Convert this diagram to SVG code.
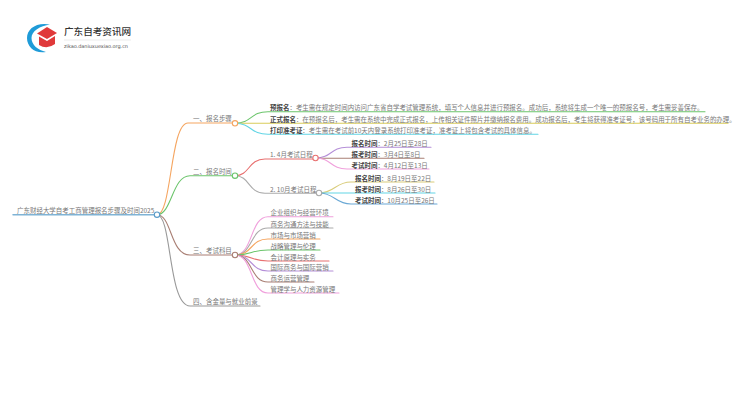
<svg xmlns="http://www.w3.org/2000/svg" width="750" height="410" viewBox="0 0 750 410">
<style>
text{font-family:"Noto Sans CJK SC","Liberation Sans",sans-serif;font-size:6.47px;fill:#777}
.b{font-weight:700;fill:#444}
.l{fill:none;stroke-width:1.1;stroke-linecap:round}
.n{fill:#fff;stroke-width:1.1}
</style>
<rect width="750" height="410" fill="#fff"/>
<g id="logo">
<path d="M50 24.500 C36 22 27 29 27 38 C27 47 35 54 46 52 C38 50 31.500 45 31.500 38 C31.500 31 40 26 50 24.500Z" fill="#1f9bd8"/>
<path d="M37 33.500 L47 27 L57 33 L47 39 Z" fill="#e0393a"/>
<path d="M39 36.500 L47 41 L55 36 V44 Q47 50 39 45 Z" fill="#e0393a"/>
<text x="64" y="34.800" style="font-size:9.6px;fill:#333;font-weight:500">广东自考资讯网</text>
<line x1="64" y1="40" x2="131" y2="40" stroke="#ddd" stroke-width=".6"/>
<text x="64" y="48" style="font-size:5px;fill:#555;font-family:'DejaVu Sans',sans-serif" textLength="64">zikao.daniuxuexiao.org.cn</text>
</g>
<g id="connectors">
<path class="l" d="M13 214.700H157" stroke="#7fb3d5" style="stroke-width:1.500"/>
<path class="l" stroke="#f5a560" d="M157 214.700C172 214.700 170 123 188 123H232"/>
<path class="l" stroke="#6cc56c" d="M157 214.700C172 214.700 172 175.700 190 175.700H232"/>
<path class="l" stroke="#a97f74" d="M157 214.700C172 214.700 170 255 190 255H232"/>
<path class="l" stroke="#999" d="M157 214.700C172 214.700 168 306 190 306H260"/>
<path class="l" stroke="#6cc56c" d="M235 123.300C252 123.300 250 111.700 268 111.700H705"/>
<path class="l" stroke="#d9cc5a" d="M235 123.300H728"/>
<path class="l" stroke="#62d5e5" d="M235 123.300C252 123.300 250 134.300 268 134.300H538"/>
<path class="l" stroke="#e87070" d="M235 175.700C250 175.700 248 159 265 159H316"/>
<path class="l" stroke="#aaa" d="M235 175.700C250 175.700 248 193.300 265 193.300H319"/>
<path class="l" stroke="#b58fd8" d="M315.500 158C332 158 330 147.300 347 147.300H431"/>
<path class="l" stroke="#a97f74" d="M315.500 158.300H424"/>
<path class="l" stroke="#f0a0dc" d="M315.500 158C332 158 330 169 347 169H429"/>
<path class="l" stroke="#d9cc7a" d="M319 193C335 193 335 182 351 182H434"/>
<path class="l" stroke="#62d5e5" d="M319 193H435"/>
<path class="l" stroke="#6aa8d5" d="M319 193C335 193 335 204 351 204H437"/>
<g>
<path class="l" stroke="#f0a0dc" d="M235 255C253 255 250 216.700 268 216.700H333"/>
<path class="l" stroke="#aaa" d="M235 255C253 255 250 228 268 228H333"/>
<path class="l" stroke="#f5a560" d="M235 255C253 255 250 239 268 239H320"/>
<path class="l" stroke="#6cc56c" d="M235 255C253 255 250 250 268 250H320"/>
<path class="l" stroke="#e87070" d="M235 255C253 255 250 261 268 261H329"/>
<path class="l" stroke="#b58fd8" d="M235 255C253 255 250 271 268 271H333"/>
<path class="l" stroke="#a97f74" d="M235 255C253 255 250 282 268 282H314"/>
<path class="l" stroke="#f0a0dc" d="M235 255C253 255 250 293 268 293H339"/>
</g>
</g>
<g id="root"><text x="17" y="212.500">广东财经大学自考工商管理报名步骤及时间2025</text><circle class="n" cx="157" cy="214.700" r="2.700" stroke="#5a9bc8"/></g>
<g id="n1"><text x="193" y="121">一、报名步骤</text><circle class="n" cx="235" cy="123.300" r="2.700" stroke="#f5a560"/></g>
<g id="n2"><text x="193" y="173.500">二、报名时间</text><circle class="n" cx="235" cy="175.700" r="2.700" stroke="#6cc56c"/></g>
<g id="n3"><text x="193" y="253">三、考试科目</text><circle class="n" cx="235" cy="255" r="2.700" stroke="#a97f74"/></g>
<g id="n4"><text x="193" y="304">四、含金量与就业前景</text></g>
<g id="n11"><text x="270" y="110"><tspan class="b">预报名</tspan>：考生需在规定时间内访问广东省自学考试管理系统，填写个人信息并进行预报名。成功后，系统将生成一个唯一的预报名号，考生需妥善保存。</text></g>
<g id="n12"><text x="270" y="121.500"><tspan class="b">正式报名</tspan>：在预报名后，考生需在系统中完成正式报名，上传相关证件照片并缴纳报名费用。成功报名后，考生将获得准考证号，该号码用于所有自考业务的办理。</text></g>
<g id="n13"><text x="270" y="132.500"><tspan class="b">打印准考证</tspan>：考生需在考试前10天内登录系统打印准考证，准考证上将包含考试的具体信息。</text></g>
<g id="n21"><text x="270" y="157">1. 4月考试日程</text><circle class="n" cx="315.500" cy="158" r="2.700" stroke="#e87070"/></g>
<g id="n22"><text x="270" y="191.500">2. 10月考试日程</text><circle class="n" cx="319" cy="193" r="2.700" stroke="#aaa"/></g>
<g id="n211"><text x="351.500" y="145.500"><tspan class="b">报名时间</tspan>：2月25日至28日</text></g>
<g id="n212"><text x="351.500" y="156.500"><tspan class="b">报考时间</tspan>：3月4日至8日</text></g>
<g id="n213"><text x="351.500" y="167.500"><tspan class="b">考试时间</tspan>：4月12日至13日</text></g>
<g id="n221"><text x="355" y="180.500"><tspan class="b">报名时间</tspan>：8月19日至22日</text></g>
<g id="n222"><text x="355" y="191.500"><tspan class="b">报考时间</tspan>：8月26日至30日</text></g>
<g id="n223"><text x="355" y="202.500"><tspan class="b">考试时间</tspan>：10月25日至26日</text></g>
<g id="s1"><text x="270.500" y="215">企业组织与经营环境</text></g>
<g id="s2"><text x="270.500" y="226.500">商务沟通方法与技能</text></g>
<g id="s3"><text x="270.500" y="237.500">市场与市场营销</text></g>
<g id="s4"><text x="270.500" y="248.500">战略管理与伦理</text></g>
<g id="s5"><text x="270.500" y="259.500">会计原理与实务</text></g>
<g id="s6"><text x="270.500" y="270">国际商务与国际营销</text></g>
<g id="s7"><text x="270.500" y="280.500">商务运营管理</text></g>
<g id="s8"><text x="270.500" y="291.500">管理学与人力资源管理</text></g>
</svg>
